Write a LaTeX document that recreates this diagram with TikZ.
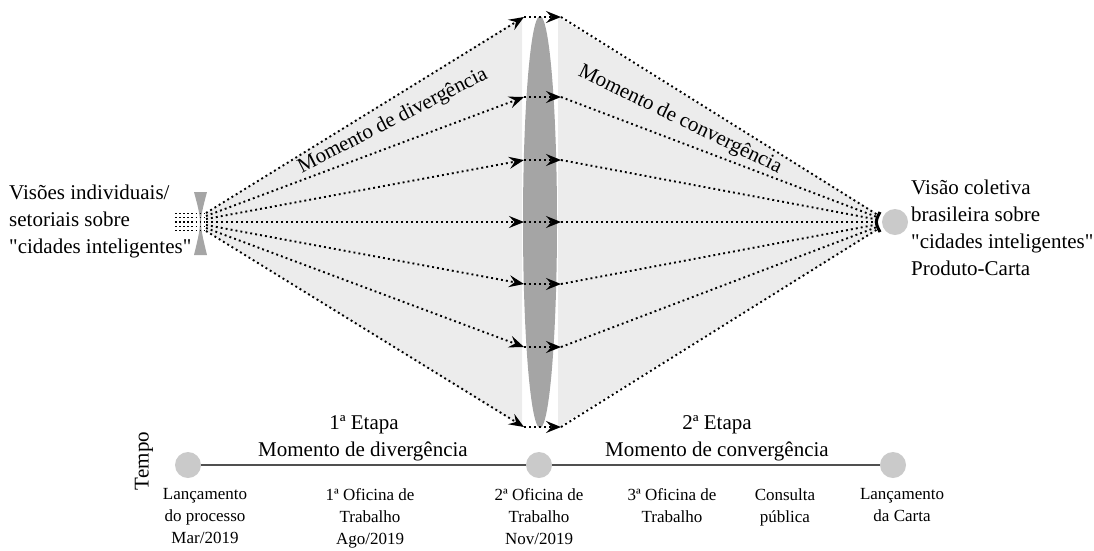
\documentclass[tikz,border=0pt]{standalone}
\usepackage{fontspec}
\setmainfont{Liberation Serif}[Ligatures=TeXOff]
\usetikzlibrary{arrows.meta}
\definecolor{fanfill}{RGB}{236,236,236}
\definecolor{lensgray}{RGB}{165,165,165}
\definecolor{dotgray}{RGB}{202,202,202}
\definecolor{tline}{RGB}{80,80,80}
\begin{document}
\begin{tikzpicture}[x=1pt,y=-1pt,
  dotline/.style={line width=1.9pt, dash pattern=on 1.9pt off 3.1pt},
  tipend/.style={-{Stealth[length=15pt,width=12pt,inset=5.5pt]}},
  bigtext/.style={font=\fontsize{21}{27}\selectfont, inner sep=0pt},
  smalltext/.style={font=\fontsize{17}{22}\selectfont, inner sep=0pt, align=center, anchor=north},
  milestone/.style={circle, fill=dotgray, minimum size=26pt, inner sep=0pt}]
\useasboundingbox (0,0) rectangle (1094,550);

% fan fills
\fill[fanfill] (206,213) -- (522,17) -- (522,427) -- (206,231) -- cycle;
\fill[fanfill] (558,17) -- (878,214) -- (878,230) -- (558,427) -- cycle;

% middle lens
\fill[lensgray] (540,222) ellipse [x radius=17, y radius=206];

% left concave lens
\fill[lensgray] (194,192) -- (207,192) .. controls (199,222) .. (207,255) -- (194,255) .. controls (202,222) .. (194,192) -- cycle;

% left grid of dots
\foreach \r in {-2,...,2}
  \draw[line width=1.5pt, dash pattern=on 1.5pt off 2.6pt] (175,{222+\r*4.3}) -- (205,{222+\r*4.3});

% right convergence
\node[milestone] (goal) at (895,222) {};
\draw[line width=3pt] (880,212) .. controls (875,222) .. (880,232);

% fan lines
\foreach \k/\yy in {1/17,2/97,3/160,4/222,5/284,6/347,7/427} {
  \pgfmathsetmacro\ys{222+(\k-4)*3}
  \pgfmathsetmacro\ye{222+(\k-4)*2.3}
  \coordinate (L\k) at (206,\ys);
  \coordinate (A\k) at (524,\yy);
  \coordinate (B\k) at (561,\yy);
  \coordinate (R\k) at (878,\ye);
  \draw[dotline,tipend] (L\k) -- (A\k);
  \draw[dotline,tipend] (A\k) -- (B\k);
  \draw[dotline] (B\k) -- (R\k);
}

% diagonal labels
\node[bigtext, rotate=27] (div) at (393,121) {Momento de divergência};
\node[bigtext, rotate=-26] (conv) at (680,120) {Momento de convergência};

% side texts
\node[bigtext, anchor=west, align=left] (src) at (9,221) {Visões individuais/\\setoriais sobre\\"cidades inteligentes"};
\node[bigtext, anchor=west, align=left] (dst) at (911,228) {Visão coletiva\\brasileira sobre\\"cidades inteligentes"\\Produto-Carta};

% timeline
\node[milestone] (m1) at (188,465) {};
\node[milestone] (m2) at (539,465) {};
\node[milestone] (m3) at (893,465) {};
\draw[tline, line width=2.2pt] (m1) -- (m2);
\draw[tline, line width=2.2pt] (m2) -- (m3);

\node[bigtext, anchor=base] (e1) at (364,429) {1ª Etapa};
\node[bigtext, anchor=base] (md) at (363,456) {Momento de divergência};
\node[bigtext, anchor=base] (e2) at (717,429) {2ª Etapa};
\node[bigtext, anchor=base] (mc) at (717,456) {Momento de convergência};

\node[bigtext, rotate=90] (tempo) at (144,461) {Tempo};

\node[smalltext] (l1) at (205,488) {Lançamento\\do processo\\Mar/2019};
\node[smalltext] (l2) at (370,488) {1ª Oficina de\\Trabalho\\Ago/2019};
\node[smalltext] (l3) at (539,488) {2ª Oficina de\\Trabalho\\Nov/2019};
\node[smalltext] (l4) at (672,488) {3ª Oficina de\\Trabalho};
\node[smalltext] (l5) at (785,488) {Consulta\\pública};
\node[smalltext] (l6) at (902,488) {Lançamento\\da Carta};
\end{tikzpicture}
\end{document}
